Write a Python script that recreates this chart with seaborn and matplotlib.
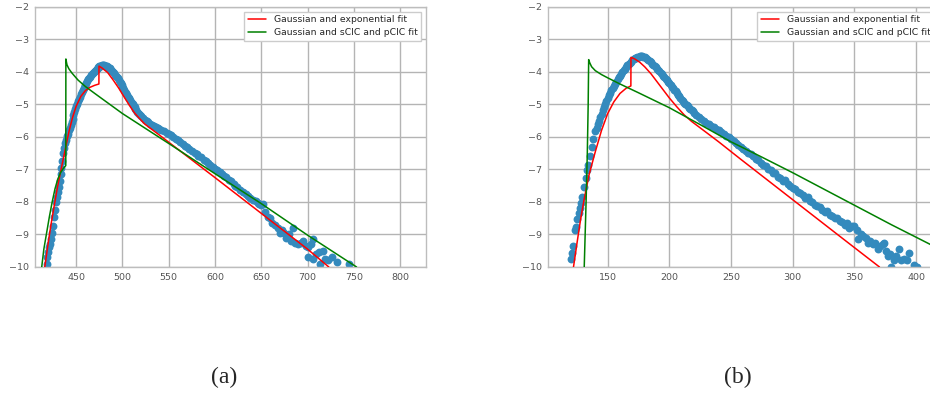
import matplotlib
matplotlib.use("Agg")
import matplotlib.pyplot as plt
import seaborn as sns

# ---- panel (a): measured points ----
a_x = [418, 418.5, 420, 421, 422, 423, 424, 425, 426, 427, 428, 429, 430, 431, 432, 433,
       434, 435, 436, 437, 438, 439, 440, 441, 442, 443, 444, 445, 446, 447, 448, 449,
       450, 451, 452, 453, 454, 455, 456, 457, 458, 459, 460, 461, 462, 463, 464, 465,
       466, 467, 468, 469, 470, 471, 472, 473, 474, 475, 476, 477, 478, 479, 480, 481,
       482, 483, 484, 485, 486, 487, 488, 489, 490, 491, 492, 493, 494, 495, 496, 497,
       498, 499, 500, 501, 502, 503, 504, 505, 506, 507, 508, 509, 510, 511, 512, 513,
       514, 515, 516, 517, 518, 519, 520, 522, 524, 526, 528, 530, 532, 534, 536, 538,
       540, 542, 545, 548, 550, 552, 555, 558, 560, 562, 565, 568, 570, 572, 575, 578,
       580, 582, 585, 588, 590, 592, 595, 598, 600, 602, 605, 608, 610, 612, 615, 617,
       620, 622, 624, 627, 630, 633, 636, 638, 641, 644, 646, 648, 650, 652, 654, 657,
       659, 662, 665, 668, 670, 672, 675, 677, 680, 682, 684, 687, 690, 693, 695, 698,
       700, 701, 704, 706, 706, 709, 712, 714, 717, 719, 722, 726, 732, 745]
a_y = [-9.9, -9.7, -9.55, -9.4, -9.3, -9.15, -8.95, -8.75, -8.45, -8.25, -8.0, -7.85, -7.7, -7.55, -7.35, -7.15,
       -6.95, -6.75, -6.5, -6.35, -6.2, -6.1, -5.98, -5.9, -5.8, -5.72, -5.63, -5.55, -5.45, -5.33, -5.22, -5.14,
       -5.06, -4.98, -4.9, -4.83, -4.76, -4.69, -4.62, -4.56, -4.5, -4.44, -4.39, -4.33, -4.28, -4.23, -4.18, -4.14,
       -4.1, -4.06, -4.03, -3.99, -3.96, -3.93, -3.9, -3.87, -3.85, -3.83, -3.82, -3.81, -3.8, -3.8, -3.8, -3.81,
       -3.82, -3.83, -3.85, -3.87, -3.89, -3.91, -3.94, -3.97, -4.0, -4.04, -4.08, -4.12, -4.16, -4.2, -4.25, -4.3,
       -4.35, -4.4, -4.45, -4.5, -4.56, -4.61, -4.66, -4.71, -4.76, -4.81, -4.86, -4.91, -4.96, -5.0, -5.05, -5.09,
       -5.14, -5.18, -5.22, -5.26, -5.3, -5.33, -5.36, -5.42, -5.47, -5.51, -5.55, -5.59, -5.62, -5.66, -5.69, -5.72,
       -5.75, -5.79, -5.83, -5.88, -5.91, -5.95, -6.0, -6.06, -6.1, -6.15, -6.21, -6.28, -6.31, -6.36, -6.42, -6.49,
       -6.53, -6.58, -6.63, -6.7, -6.74, -6.79, -6.85, -6.92, -6.97, -7.01, -7.08, -7.14, -7.2, -7.24, -7.31, -7.35,
       -7.45, -7.5, -7.55, -7.62, -7.7, -7.76, -7.83, -7.87, -7.93, -7.98, -8.02, -8.05, -8.1, -8.05, -8.3, -8.45,
       -8.5, -8.65, -8.7, -8.8, -8.95, -8.85, -8.95, -9.1, -9.0, -9.2, -8.8, -9.25, -9.3, -9.25, -9.2, -9.35,
       -9.4, -9.7, -9.3, -9.75, -9.15, -9.6, -9.55, -9.9, -9.5, -9.75, -9.8, -9.7, -9.85, -9.9]

# fitted curves (a)
a_exp_x = [416, 418, 420, 423, 426, 430, 434, 438, 442, 446, 450, 455, 460, 465, 470, 474.5,
           474.6, 478, 484, 490, 496, 502, 508, 513, 518, 524, 530, 538, 560, 600, 650, 700, 723]
a_exp_y = [-10.0, -9.6, -9.2, -8.65, -8.15, -7.5, -6.95, -6.4, -5.85, -5.4, -5.05, -4.75, -4.57, -4.47, -4.41, -4.37,
           -3.82, -3.88, -4.02, -4.25, -4.5, -4.78, -5.05, -5.26, -5.42, -5.6, -5.73, -5.9, -6.38, -7.25, -8.35, -9.45, -10.0]
a_cic_x = [412.7, 415, 418, 421, 424, 427, 430, 433, 436, 438.7,
           438.8, 440, 442, 445, 448, 452, 460, 470, 500, 550, 600, 650, 700, 753]
a_cic_y = [-10.0, -9.45, -8.95, -8.45, -8.0, -7.6, -7.3, -7.1, -6.97, -6.88,
           -3.6, -3.78, -3.9, -4.02, -4.12, -4.25, -4.45, -4.66, -5.28, -6.2, -7.13, -8.05, -9.02, -10.0]

# ---- panel (b): measured points ----
b_x = [120, 121, 122, 123.5, 124.3, 125.4, 126.7, 127.5, 128.4, 129.5, 130.8, 132.4, 133.5, 134.3, 135.5, 137,
       138.5, 140, 141, 142, 143, 144, 145, 146, 147, 148, 149, 150, 151, 152, 153, 154,
       155, 156, 157, 158, 159, 160, 161, 162, 163, 164, 165, 166, 167, 168, 169, 170,
       171, 172, 173, 174, 175, 176, 177, 178, 179, 180, 181, 182, 183, 184, 185, 186,
       187, 188, 189, 190, 191, 192, 193, 194, 195, 196, 197, 198, 199, 200, 201, 202,
       203, 204, 205, 206, 207, 208, 209, 210, 211, 212, 213, 214, 215, 216, 217, 218,
       219, 220, 222, 224, 226, 228, 230, 232, 234, 236, 238, 240, 242, 244, 246, 248,
       250, 252, 254, 256, 258, 260, 262, 264, 266, 268, 270, 272, 274, 276, 278, 280,
       282, 284, 286, 288, 290, 292, 294, 296, 298, 300, 302, 304, 306, 308, 310, 312,
       314, 316, 318, 320, 322, 324, 326, 328, 330, 332, 334, 336, 338, 340, 342, 344,
       346, 348, 350, 352, 353, 355, 357, 359, 361, 363, 365, 367, 369, 371, 373, 374,
       376, 377, 379, 380, 382, 384, 386, 388, 390, 393, 394.6, 398, 401]
b_y = [-9.76, -9.58, -9.35, -8.86, -8.76, -8.53, -8.34, -8.18, -8.02, -7.84, -7.53, -7.27, -7.02, -6.86, -6.6, -6.3,
       -6.05, -5.82, -5.71, -5.6, -5.5, -5.4, -5.28, -5.17, -5.07, -4.98, -4.89, -4.8, -4.72, -4.64, -4.57, -4.5,
       -4.43, -4.36, -4.3, -4.23, -4.17, -4.12, -4.06, -4.0, -3.95, -3.9, -3.85, -3.8, -3.76, -3.72, -3.68, -3.64,
       -3.61, -3.58, -3.56, -3.54, -3.53, -3.52, -3.52, -3.52, -3.53, -3.55, -3.57, -3.6, -3.63, -3.66, -3.7, -3.74,
       -3.78, -3.82, -3.86, -3.9, -3.94, -3.98, -4.02, -4.07, -4.11, -4.16, -4.21, -4.26, -4.3, -4.35, -4.4, -4.45,
       -4.5, -4.55, -4.6, -4.65, -4.7, -4.75, -4.8, -4.85, -4.89, -4.94, -4.98, -5.02, -5.06, -5.1, -5.14, -5.18,
       -5.21, -5.25, -5.32, -5.39, -5.45, -5.5, -5.56, -5.6, -5.65, -5.7, -5.75, -5.8, -5.85, -5.9, -5.96, -6.01,
       -6.06, -6.12, -6.18, -6.24, -6.3, -6.36, -6.42, -6.48, -6.53, -6.6, -6.68, -6.72, -6.8, -6.86, -6.9, -6.98,
       -7.03, -7.1, -7.12, -7.22, -7.25, -7.35, -7.32, -7.45, -7.5, -7.58, -7.6, -7.7, -7.72, -7.78, -7.88, -7.85,
       -7.97, -8.0, -8.1, -8.12, -8.15, -8.25, -8.3, -8.28, -8.4, -8.42, -8.5, -8.48, -8.6, -8.62, -8.7, -8.65,
       -8.8, -8.75, -8.74, -8.85, -9.15, -9.0, -9.05, -9.12, -9.26, -9.2, -9.3, -9.25, -9.45, -9.35, -9.3, -9.26,
       -9.5, -9.67, -9.6, -10.0, -9.77, -9.65, -9.46, -9.8, -9.75, -9.77, -9.57, -9.95, -10.0]

# fitted curves (b)
b_exp_x = [122.3, 125, 128, 131, 135, 140, 145, 150, 155, 160, 165, 168.8,
           168.9, 172, 176, 180, 185, 190, 195, 200, 206, 212, 218, 225, 232, 240, 258, 300, 340, 370.3]
b_exp_y = [-10.0, -9.3, -8.55, -7.9, -7.15, -6.45, -5.8, -5.28, -4.92, -4.66, -4.5, -4.43,
           -3.55, -3.6, -3.7, -3.84, -4.05, -4.3, -4.55, -4.8, -5.07, -5.32, -5.52, -5.72, -5.92, -6.15, -6.69, -7.93, -9.11, -10.0]
b_cic_x = [131.0, 132.5, 133.5, 134.2, 134.6, 135.5, 137, 140, 145, 150, 160, 175, 200, 225, 250, 275, 300, 350, 380, 419]
b_cic_y = [-10.0, -8.0, -6.5, -5.0, -3.62, -3.72, -3.84, -3.96, -4.08, -4.18, -4.37, -4.64, -5.1, -5.62, -6.15, -6.62, -7.1, -8.1, -8.7, -9.45]

labels = ["Gaussian and exponential fit", "Gaussian and sCIC and pCIC fit"]

sns.set_style("whitegrid")
plt.rcParams["font.family"] = ["DejaVu Sans"]

fig = plt.figure(figsize=(9.3, 3.96), dpi=100)
ax_a = fig.add_axes([0.0376, 0.3258, 0.4204, 0.6566])
ax_b = fig.add_axes([0.5892, 0.3258, 0.4204, 0.6566])


def draw_panel(ax, px, py, ex, ey, cx, cy, xlim, xticks):
    sns.scatterplot(x=px, y=py, ax=ax, color="#348ABD", s=32, linewidth=0, zorder=2)
    sns.lineplot(x=ex, y=ey, ax=ax, color="red", lw=1.1, sort=False, estimator=None,
                 label=labels[0], zorder=3)
    sns.lineplot(x=cx, y=cy, ax=ax, color="green", lw=1.1, sort=False, estimator=None,
                 label=labels[1], zorder=4)
    ax.set_xlim(*xlim)
    ax.set_ylim(-10, -2)
    ax.set_xticks(xticks)
    ax.set_yticks(range(-10, -1))
    ax.grid(True, color="#b4b4b4", lw=1.0)
    for sp in ax.spines.values():
        sp.set_color("#bdbdbd")
        sp.set_linewidth(1.0)
    ax.tick_params(axis="both", labelsize=6.8, labelcolor="#555555", length=0, pad=4)
    leg = ax.legend(loc="upper right", fontsize=6.7, frameon=True, fancybox=False,
                    borderaxespad=0.5, handlelength=2.0, labelspacing=0.4)
    leg.get_frame().set_edgecolor("#cccccc")
    leg.get_frame().set_facecolor("white")
    leg.get_frame().set_alpha(1)
    for t in leg.get_texts():
        t.set_color("#262626")


draw_panel(ax_a, a_x, a_y, a_exp_x, a_exp_y, a_cic_x, a_cic_y, (405.4, 828), range(450, 801, 50))
draw_panel(ax_b, b_x, b_y, b_exp_x, b_exp_y, b_cic_x, b_cic_y, (101.6, 418.5), range(150, 401, 50))

fig.text(224 / 930, 1 - 377 / 396, "(a)", ha="center", va="center", fontsize=17, family="Liberation Serif")
fig.text(738 / 930, 1 - 377 / 396, "(b)", ha="center", va="center", fontsize=17, family="Liberation Serif")

fig.savefig("out.png", dpi=100)
